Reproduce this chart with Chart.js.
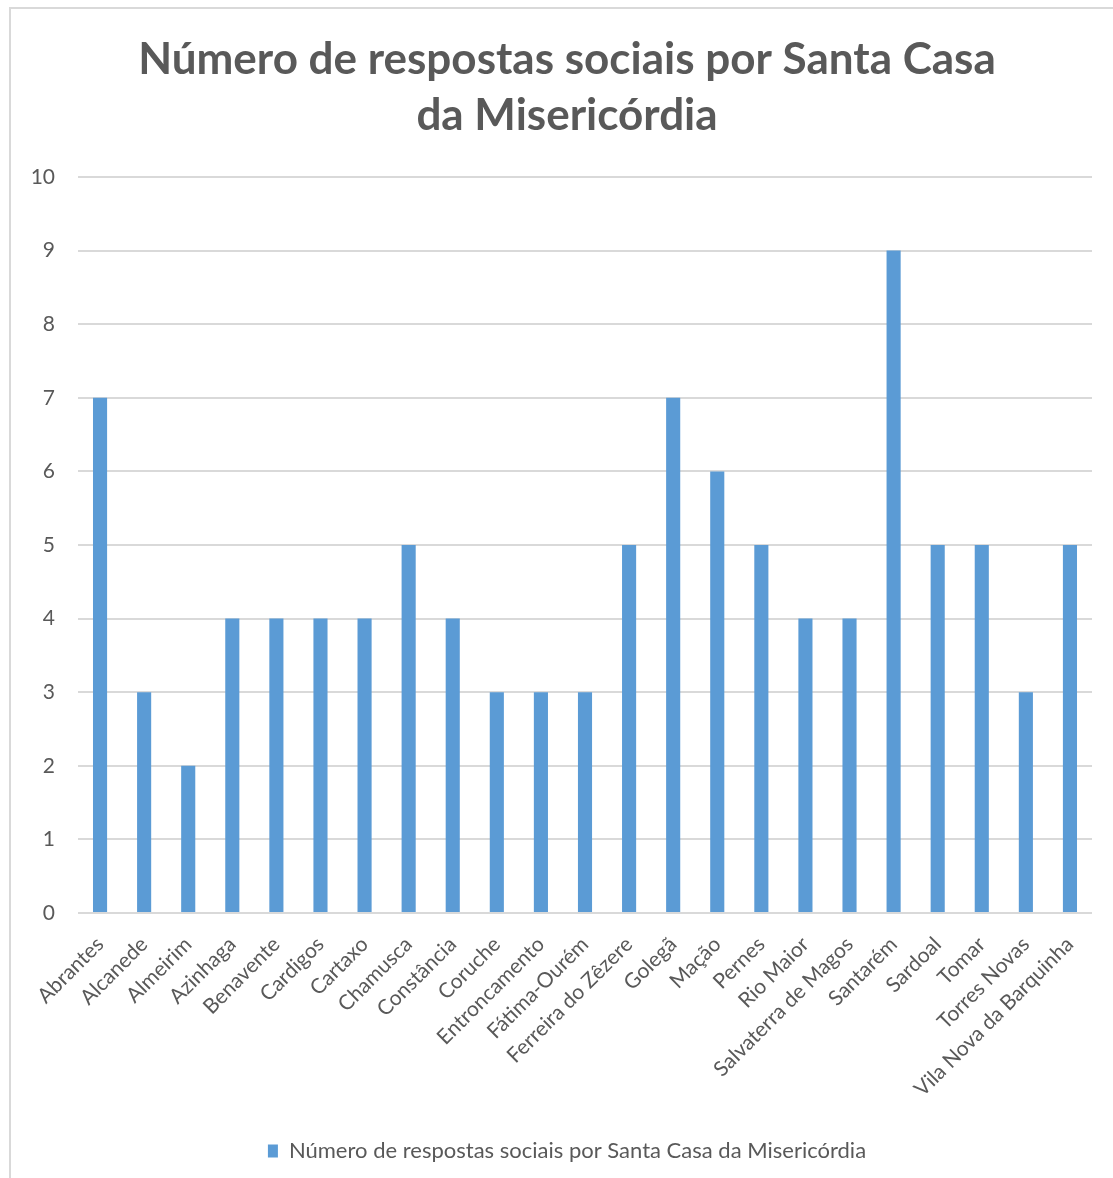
<!DOCTYPE html>
<html>
<head>
<meta charset="utf-8">
<script src="https://cdn.jsdelivr.net/npm/chart.js@4"></script>
<style>
html,body{margin:0;padding:0;background:#fff;}
#wrap{position:relative;width:1113px;height:1178px;}
</style>
</head>
<body>
<div id="wrap"><canvas id="c" width="1113" height="1178"></canvas></div>
<script>
const categories = ["Abrantes","Alcanede","Almeirim","Azinhaga","Benavente","Cardigos","Cartaxo","Chamusca","Constância","Coruche","Entroncamento","Fátima-Ourém","Ferreira do Zêzere","Golegã","Mação","Pernes","Rio Maior","Salvaterra de Magos","Santarém","Sardoal","Tomar","Torres Novas","Vila Nova da Barquinha"];
const values = [7,3,2,4,4,4,4,5,4,3,3,3,5,7,6,5,4,4,9,5,5,3,5];
const seriesName = "Número de respostas sociais por Santa Casa da Misericórdia";
const titleLines = ["Número de respostas sociais por Santa Casa","da Misericórdia"];
const yTicks = [0,1,2,3,4,5,6,7,8,9,10];

const textColor = "#595959";
const gridColor = "#d9d9d9";
const barColor = "#5b9bd5";
const FONT = "Lato, 'Open Sans', sans-serif";

const frame = {
  id: "frame",
  beforeDraw(chart) {
    const ctx = chart.ctx;
    ctx.save();
    ctx.fillStyle = "#fff";
    ctx.fillRect(0, 0, chart.width, chart.height);
    ctx.strokeStyle = gridColor;
    ctx.lineWidth = 2;
    ctx.beginPath();
    ctx.moveTo(10, chart.height);
    ctx.lineTo(10, 8);
    ctx.lineTo(chart.width, 8);
    ctx.stroke();
    ctx.restore();
  }
};

new Chart(document.getElementById("c"), {
  type: "bar",
  data: {
    labels: categories,
    datasets: [{
      label: seriesName,
      data: values,
      backgroundColor: barColor,
      borderWidth: 0,
      barPercentage: 0.32,
      categoryPercentage: 1
    }]
  },
  plugins: [frame],
  options: {
    responsive: false,
    animation: false,
    devicePixelRatio: 1,
    layout: { padding: { left: 21, right: 0, top: 0, bottom: 6 } },
    plugins: {
      tooltip: { enabled: false },
      title: {
        display: true,
        text: titleLines,
        color: textColor,
        font: { family: FONT, size: 44, weight: "bold", lineHeight: 1.273 },
        padding: { top: 32, bottom: 33 }
      },
      legend: {
        display: true,
        position: "bottom",
        labels: {
          color: textColor,
          font: { family: FONT, size: 22 },
          boxWidth: 10,
          boxHeight: 13,
          padding: 10
        }
      }
    },
    scales: {
      x: {
        grid: { display: false, drawTicks: false },
        border: { display: false },
        ticks: {
          color: textColor,
          font: { family: FONT, size: 21 },
          minRotation: 45,
          maxRotation: 45,
          autoSkip: false,
          padding: 19
        },
        afterFit(s) { s.height = 217; }
      },
      y: {
        min: 0,
        max: 10,
        afterBuildTicks(s) { s.ticks = yTicks.map(v => ({ value: v })); },
        grid: { color: gridColor, lineWidth: 2, drawTicks: false },
        border: { display: false },
        ticks: {
          color: textColor,
          font: { family: FONT, size: 21 },
          padding: 23
        },
        afterFit(s) { s.width = 57; }
      },
      yRight: {
        position: "right",
        display: true,
        min: 0,
        max: 10,
        grid: { display: false, drawTicks: false },
        border: { display: false },
        ticks: { display: false },
        afterFit(s) { s.width = 21; }
      }
    }
  }
});
</script>
</body>
</html>
